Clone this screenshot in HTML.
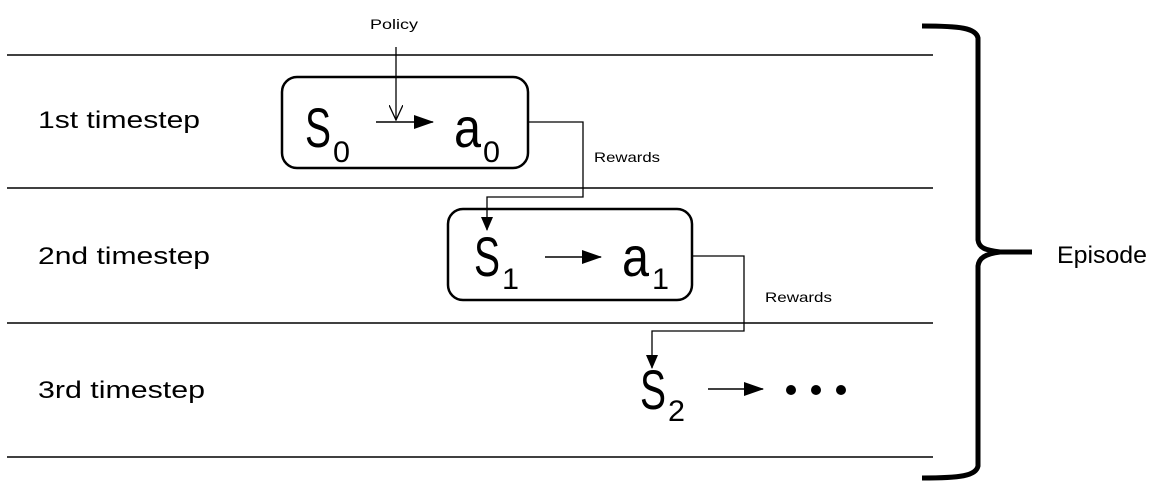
<!DOCTYPE html>
<html><head><style>
html,body{margin:0;padding:0;background:#fff;}
svg{display:block}
text{font-family:"Liberation Sans",sans-serif;fill:#000}
</style></head><body>
<svg width="1151" height="495" viewBox="0 0 1151 495">
<defs>
<marker id="fa" markerWidth="20" markerHeight="14" refX="19" refY="7" orient="auto" markerUnits="userSpaceOnUse"><path d="M0,0 L20,7 L0,14 Z" fill="#000"/></marker>
<marker id="fs" markerWidth="14" markerHeight="12" refX="13" refY="6" orient="auto" markerUnits="userSpaceOnUse"><path d="M0,0 L14,6 L0,12 Z" fill="#000"/></marker>
<marker id="o" markerWidth="16" markerHeight="14" refX="15" refY="7" orient="auto" markerUnits="userSpaceOnUse"><path d="M0,0 L15,7 L0,14" fill="none" stroke="#000" stroke-width="1.3"/></marker>
</defs>
<g stroke="#000" stroke-width="1.5">
<line x1="7" y1="55" x2="933" y2="55"/>
<line x1="7" y1="188" x2="933" y2="188"/>
<line x1="7" y1="323" x2="933" y2="323"/>
<line x1="7" y1="457" x2="933" y2="457"/>
</g>
<text x="38" y="128" font-size="24" textLength="162" lengthAdjust="spacingAndGlyphs">1st timestep</text>
<text x="38" y="264" font-size="24" textLength="172" lengthAdjust="spacingAndGlyphs">2nd timestep</text>
<text x="38" y="398" font-size="24" textLength="167" lengthAdjust="spacingAndGlyphs">3rd timestep</text>
<rect x="282" y="77" width="246" height="91" rx="15" fill="none" stroke="#000" stroke-width="2.5"/>
<rect x="448" y="209" width="244" height="91" rx="15" fill="none" stroke="#000" stroke-width="2.5"/>
<text x="305" y="147" font-size="56" textLength="26" lengthAdjust="spacingAndGlyphs">S</text><text x="333" y="162" font-size="30" textLength="17" lengthAdjust="spacingAndGlyphs">0</text>
<text x="454" y="147" font-size="56" textLength="27" lengthAdjust="spacingAndGlyphs">a</text><text x="483" y="162" font-size="30" textLength="17" lengthAdjust="spacingAndGlyphs">0</text>
<line x1="376" y1="122" x2="433" y2="122" stroke="#000" stroke-width="1.5" marker-end="url(#fa)"/>
<text x="370" y="29" font-size="14" textLength="48" lengthAdjust="spacingAndGlyphs">Policy</text>
<line x1="396" y1="47" x2="396" y2="120" stroke="#000" stroke-width="1.3" marker-end="url(#o)"/>
<polyline points="528,122 583,122 583,197 487,197 487,230" fill="none" stroke="#000" stroke-width="1.3" marker-end="url(#fs)"/>
<text x="594" y="162" font-size="14" textLength="66" lengthAdjust="spacingAndGlyphs">Rewards</text>
<text x="474" y="276" font-size="56" textLength="26" lengthAdjust="spacingAndGlyphs">S</text><text x="502" y="289" font-size="30" textLength="17" lengthAdjust="spacingAndGlyphs">1</text>
<text x="622" y="276" font-size="56" textLength="27" lengthAdjust="spacingAndGlyphs">a</text><text x="652" y="289" font-size="30" textLength="17" lengthAdjust="spacingAndGlyphs">1</text>
<line x1="545" y1="257" x2="601" y2="257" stroke="#000" stroke-width="1.5" marker-end="url(#fa)"/>
<polyline points="692,256 744,256 744,331 652,331 652,368" fill="none" stroke="#000" stroke-width="1.3" marker-end="url(#fs)"/>
<text x="765" y="302" font-size="14" textLength="67" lengthAdjust="spacingAndGlyphs">Rewards</text>
<text x="640" y="409" font-size="56" textLength="26" lengthAdjust="spacingAndGlyphs">S</text><text x="668" y="421" font-size="30" textLength="17" lengthAdjust="spacingAndGlyphs">2</text>
<line x1="708" y1="389" x2="763" y2="389" stroke="#000" stroke-width="1.5" marker-end="url(#fa)"/>
<circle cx="791" cy="390" r="5"/><circle cx="816" cy="390" r="5"/><circle cx="841" cy="390" r="5"/>
<path d="M922,26 C960,26 976,28 978,38 L978,240 C979,248 985,250 1000,252 L1032,252" fill="none" stroke="#000" stroke-width="5"/>
<path d="M1032,252 L1000,252 C985,254 979,258 978,266 L978,466 C976,476 960,478 922,478" fill="none" stroke="#000" stroke-width="5"/>
<text x="1057" y="263" font-size="24" textLength="90" lengthAdjust="spacingAndGlyphs">Episode</text>
</svg>
</body></html>
